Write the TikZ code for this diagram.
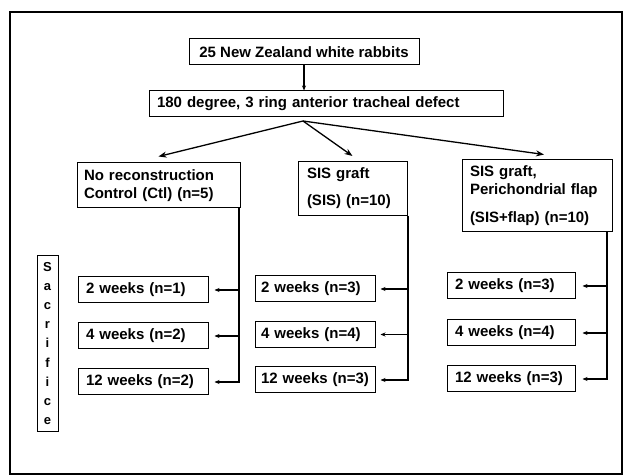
\documentclass[tikz,border=0pt]{standalone}
\usepackage{fontspec}
\setmainfont{Liberation Sans}
\usetikzlibrary{arrows.meta}
\tikzset{
  box/.style={draw, line width=1pt, inner ysep=0pt, font=\fontsize{15}{18}\selectfont\bfseries, align=left},
  wk/.style={box, minimum height=26pt, inner xsep=8pt},
  link/.style={line width=1.3pt},
  bigarrow/.style={link, -{Stealth[length=8pt,width=6pt]}},
  smallarrow/.style={link, -{Stealth[length=5pt,width=4pt]}},
}
\begin{document}
\begin{tikzpicture}[x=1pt,y=-1pt]
\useasboundingbox (0,0) rectangle (625,476);
\fill[white] (0,0) rectangle (625,476);
\draw[line width=2pt] (10,12) rectangle (622,474);

% top boxes
\node[box, align=center, minimum width=230pt, minimum height=26pt, inner xsep=0pt] (b1) at (304,52) {25 New Zealand white rabbits};
\node[box, text width=338pt, inner xsep=8pt, minimum height=26pt] (b2) at (326,104) {180 degree, 3 ring anterior tracheal defect};
\draw[smallarrow] (b1.south) -- (b1.south |- b2.north);

% group boxes
\node[box, text width=149pt, inner xsep=7pt, minimum height=45pt] (ctl) at (158.5,185.5) {No reconstruction\\Control (Ctl) (n=5)};
\node[box, text width=91pt, inner xsep=9pt, minimum height=54pt] (sis) at (352.5,188.5) {SIS graft\\[9pt](SIS) (n=10)};
\node[box, text width=134pt, inner xsep=8pt, minimum height=72pt] (flap) at (537,196) {SIS graft,\\Perichondrial flap\\[10pt](SIS+flap) (n=10)};

\coordinate (fan) at (303,121);
\draw[bigarrow] (fan) -- ([yshift=6pt]ctl.north);
\draw[bigarrow] (fan) -- ([yshift=5pt]sis.north);
\draw[bigarrow] (fan) -- ([shift={(7pt,5pt)}]flap.north);

% sacrifice
\node[draw, line width=1pt, minimum width=21pt, minimum height=175pt, inner sep=0pt, align=center,
      font=\fontsize{13}{19.2}\selectfont\bfseries] (sac) at (47.5,343.5) {S\\a\\c\\r\\i\\f\\i\\c\\e};

% week boxes: Ctl
\node[wk, text width=114pt] (c2) at (143,290) {2 weeks (n=1)};
\node[wk, text width=114pt] (c4) at (143,336) {4 weeks (n=2)};
\node[wk, text width=114pt] (c12) at (143,382) {12 weeks (n=2)};
% SIS
\node[wk, text width=108pt, inner xsep=6pt] (s2) at (315,289) {2 weeks (n=3)};
\node[wk, text width=108pt, inner xsep=6pt] (s4) at (315,334.5) {4 weeks (n=4)};
\node[wk, text width=108pt, inner xsep=6pt] (s12) at (315,380) {12 weeks (n=3)};
% flap
\node[wk, text width=112pt] (f2) at (511,286) {2 weeks (n=3)};
\node[wk, text width=112pt] (f4) at (511,333) {4 weeks (n=4)};
\node[wk, text width=112pt] (f12) at (511,379) {12 weeks (n=3)};

\coordinate (cvx) at (239,0);
\coordinate (svx) at (408,0);
\coordinate (fvx) at (607,0);

\draw[smallarrow] (ctl.south -| cvx) |- ([xshift=6pt]c12.east);
\draw[smallarrow] (cvx |- c2.east) -- ([xshift=6pt]c2.east);
\draw[smallarrow] (cvx |- c4.east) -- ([xshift=6pt]c4.east);

\draw[smallarrow] (sis.south -| svx) |- ([xshift=5pt]s12.east);
\draw[smallarrow] (svx |- s2.east) -- ([xshift=5pt]s2.east);
\draw[smallarrow] (svx |- s4.east) -- ([xshift=5pt]s4.east);

\draw[smallarrow] (flap.south -| fvx) |- ([xshift=7pt]f12.east);
\draw[smallarrow] (fvx |- f2.east) -- ([xshift=7pt]f2.east);
\draw[smallarrow] (fvx |- f4.east) -- ([xshift=7pt]f4.east);
\end{tikzpicture}
\end{document}
